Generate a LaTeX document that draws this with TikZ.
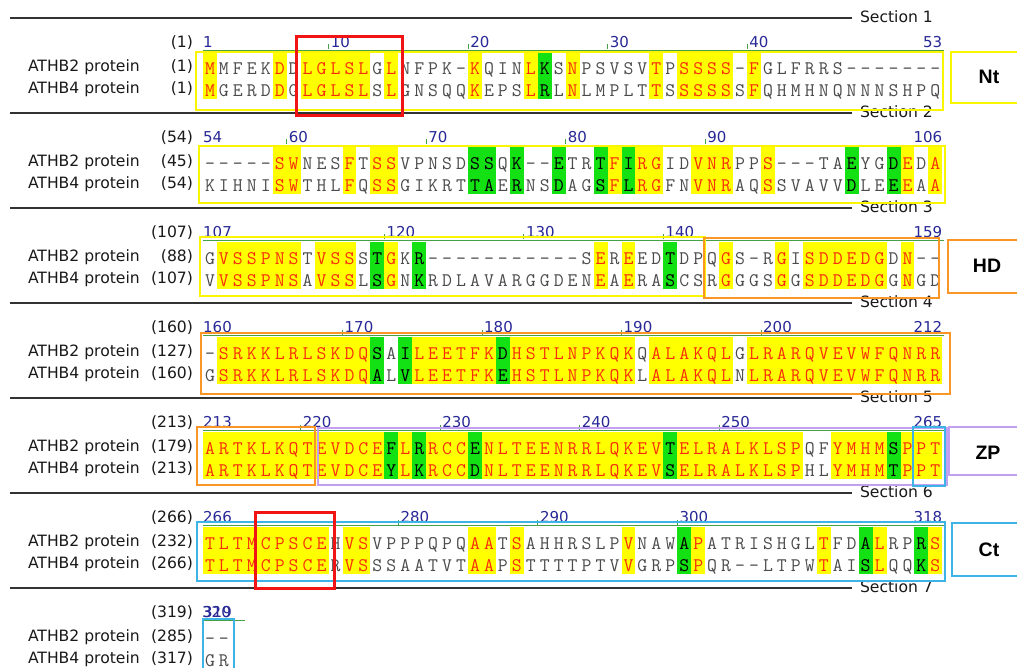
\documentclass[tikz,border=0pt]{standalone}
\usepackage{fontspec}
\setmainfont{DejaVu Sans}
\newfontfamily\domfont{Liberation Sans}
\definecolor{hlY}{RGB}{255,255,0}
\definecolor{hlG}{RGB}{20,225,20}
\definecolor{hlR}{RGB}{250,45,10}
\definecolor{seqgrey}{RGB}{75,75,75}
\definecolor{numblue}{RGB}{40,40,150}
\definecolor{boxY}{RGB}{250,245,0}
\definecolor{boxO}{RGB}{250,150,40}
\definecolor{boxP}{RGB}{195,160,240}
\definecolor{boxC}{RGB}{60,180,230}
\definecolor{boxR}{RGB}{240,20,20}
\definecolor{consG}{RGB}{70,160,70}
\definecolor{secL}{RGB}{50,50,50}
\definecolor{labK}{RGB}{25,25,25}
\tikzset{
  lab/.style={font=\fontsize{15.6}{17}\selectfont, text=labK, anchor=base west, inner sep=0pt, outer sep=0pt},
  labr/.style={lab, anchor=base east},
  seqch/.style={font=\fontsize{19.2}{20}\selectfont\ttfamily, anchor=base, inner sep=0pt},
  numl/.style={font=\fontsize{15}{16}\selectfont, text=numblue, anchor=base west, inner sep=0pt},
  numr/.style={numl, anchor=base east},
  tickg/.style={draw=consG, line width=0.8pt},
  consline/.style={draw=consG, line width=0.8pt},
  secline/.style={draw=secL, line width=1.5pt},
  seclab/.style={lab},
  dombox/.style={line width=2pt},
  redbox/.style={draw=boxR, line width=3pt},
  domlab/.style={font=\domfont\bfseries\fontsize{19.5}{21}\selectfont, text=black, inner sep=0pt},
}
\ExplSyntaxOn
\tl_new:N \l_aln_m_tl
\tl_new:N \l_aln_a_tl
\tl_new:N \l_aln_b_tl
\tl_new:N \l_aln_c_tl
\NewDocumentCommand{\AlignBlock}{mmmmm}
 {
  \int_step_inline:nn {#2}
   {
    \tl_set:Nx \l_aln_m_tl { \str_item:nn {#5} {##1} }
    \tl_set:Nx \l_aln_a_tl { \str_item:nn {#3} {##1} }
    \tl_set:Nx \l_aln_b_tl { \str_item:nn {#4} {##1} }
    \str_if_eq:VnTF \l_aln_m_tl {Y}
     {
      \tl_set:Nn \l_aln_c_tl {hlR}
      \fill[hlY]({203+(##1-1)*13.95},{52+95*#1})rectangle++(13.95,47);
     }
     {
      \str_if_eq:VnTF \l_aln_m_tl {G}
       {
        \tl_set:Nn \l_aln_c_tl {black}
        \fill[hlG]({203+(##1-1)*13.95},{52+95*#1})rectangle++(13.95,47);
       }
       { \tl_set:Nn \l_aln_c_tl {seqgrey} }
     }
    \node[seqch,text=\l_aln_c_tl,name=s#1a##1]at({203+(##1-0.5)*13.95},{74.5+95*#1}){\l_aln_a_tl};
    \node[seqch,text=\l_aln_c_tl,name=s#1b##1]at({203+(##1-0.5)*13.95},{96.6+95*#1}){\l_aln_b_tl};
   }
 }
\ExplSyntaxOff
\newcommand\NumRow[5]{%
  \node[numl,name=nf#1] at (203,{47.3+95*#1}) {#2};
  \node[numr,name=nl#1] at (#4,{47.3+95*#1}) {#3};
  \foreach \c/\n in {#5} {
    \draw[tickg] ({203+(\c-1)*13.95},{44.5+95*#1}) -- ++(0,5);
    \node[numl,name=nm#1-\c] at ({205+(\c-1)*13.95},{47.3+95*#1}) {\n};
  }
}
\begin{document}
\begin{tikzpicture}[x=1pt,y=-1pt]
\useasboundingbox (0,0) rectangle (1017,668);
\fill[white] (0,0) rectangle (1017,668);
\clip (0,0) rectangle (1017,668);

% ---- sequences
\AlignBlock{0}{53}{MMFEKDDLGLSLGLNFPK-KQINLKSNPSVSVTPSSSS-FGLFRRS-------}{MGERDDGLGLSLSLGNSQQKEPSLRLNLMPLTTSSSSSSFQHMHNQNNNSHPQ}{Y....Y.YYYYY.Y.....Y...YG.Y.....Y.YYYY.Y.............}
\AlignBlock{1}{53}{-----SWNESFTSSVPNSDSSQK--ETRTFIRGIDVNRPPS---TAEYGDEDA}{KIHNISWTHLFQSSGIKRTTAERNSDAGSFLRGFNVNRAQSSVAVVDLEEEAA}{.....YY...Y.YY.....GG.G..G..GYGYY..YYY..Y.....G..GY.Y}
\AlignBlock{2}{53}{GVSSPNSTVSSSTGKR-----------SEREEDTDPQGS-RGISDDEDGDN--}{VVSSPNSAVSSLSGNKRDLAVARGGDENEAERASCSRGGGSGGSDDEDGGNGD}{.YYYYYY.YYY.GY.G............Y.Y..G...Y...Y.YYYYYY.Y..}
\AlignBlock{3}{53}{-SRKKLRLSKDQSAILEETFKDHSTLNPKQKQALAKQLGLRARQVEVWFQNRR}{GSRKKLRLSKDQALVLEETFKEHSTLNPKQKLALAKQLNLRARQVEVWFQNRR}{.YYYYYYYYYYYG.GYYYYYYGYYYYYYYYY.YYYYYY.YYYYYYYYYYYYYY}
\AlignBlock{4}{53}{ARTKLKQTEVDCEFLRRCCENLTEENRRLQKEVTELRALKLSPQFYMHMSPPT}{ARTKLKQTEVDCEYLKRCCDNLTEENRRLQKEVSELRALKLSPHLYMHMTPPT}{YYYYYYYYYYYYYGYGYYYGYYYYYYYYYYYYYGYYYYYYYYY..YYYYGYYY}
\AlignBlock{5}{53}{TLTMCPSCEHVSVPPPQPQAATSAHHRSLPVNAWAPATRISHGLTFDALRPRS}{TLTMCPSCERVSSSAATVTAAPSTTTTPTVVGRPSPQR--LTPWTAISLQQKS}{YYYYYYYYY.YY.......YY.Y.......Y...GY........Y..GY..GY}
\AlignBlock{6}{2}{--}{GR}{..}

% ---- consensus lines
\foreach \k in {0,...,5} \draw[consline] (203,{50.5+95*\k}) -- (944,{50.5+95*\k});
\draw[consline] (203,620.5) -- (245,620.5);

% ---- position numbers
\NumRow{0}{1}{53}{942.4}{10/10,20/20,30/30,40/40}
\NumRow{1}{54}{106}{942.4}{7/60,17/70,27/80,37/90}
\NumRow{2}{107}{159}{942.4}{14/120,24/130,34/140}
\NumRow{3}{160}{212}{942.4}{11/170,21/180,31/190,41/200}
\NumRow{4}{213}{265}{942.4}{8/220,18/230,28/240,38/250}
\NumRow{5}{266}{318}{942.4}{15/280,25/290,35/300}
\node[numl,name=nf6] at (203,617.3) {319};
\node[numr,name=nl6] at (231,617.3) {320};

% ---- row labels
\foreach \k/\na/\nb/\nc in {0/1/1/1,1/54/45/54,2/107/88/107,3/160/127/160,4/213/179/213,5/266/232/266,6/319/285/317} {
  \node[labr,name=pn\k] at (193,{47.7+95*\k}) {(\na)};
  \node[lab,name=la\k] at (28,{71.7+95*\k}) {ATHB2 protein};
  \node[labr,name=pa\k] at (193,{71.7+95*\k}) {(\nb)};
  \node[lab,name=lb\k] at (28,{93.9+95*\k}) {ATHB4 protein};
  \node[labr,name=pb\k] at (193,{93.9+95*\k}) {(\nc)};
}

% ---- section rules
\foreach \s in {1,...,7} {
  \draw[secline] (10,{18+95*(\s-1)}) -- (852,{18+95*(\s-1)});
  \node[seclab,name=sec\s] at (860,{22.5+95*(\s-1)}) {Section \s};
}

% ---- domain boxes
\draw[dombox,draw=boxY] (196,52) rectangle (943,110);
\draw[dombox,draw=boxY] (951,52) rectangle (1030,103);
\draw[dombox,draw=boxY] (199,146) rectangle (945,203);
\draw[dombox,draw=boxY] (200,237) rectangle (705,296);
\draw[dombox,draw=boxO] (704,238) rectangle (939,298);
\draw[dombox,draw=boxO] (948,240) rectangle (1030,293);
\draw[dombox,draw=boxO] (201,333) rectangle (950,394);
\draw[dombox,draw=boxP] (318,428) rectangle (947,485);
\draw[dombox,draw=boxO] (197,427) rectangle (315,485);
\draw[dombox,draw=boxC] (913,427) rectangle (945,486);
\draw[dombox,draw=boxP] (949,427) rectangle (1030,475);
\draw[dombox,draw=boxC] (197,522) rectangle (945,581);
\draw[dombox,draw=boxC] (952,523) rectangle (1030,576);
\draw[dombox,draw=boxC] (203,619) rectangle (234,680);
\draw[redbox] (296,37) rectangle (402,116);
\draw[redbox] (255,512) rectangle (334,588);

% ---- domain labels
\node[domlab,name=nt] at (989,77) {Nt};
\node[domlab,name=hd] at (987,266) {HD};
\node[domlab,name=zp] at (988,453) {ZP};
\node[domlab,name=ct] at (989,550) {Ct};
\end{tikzpicture}
\end{document}
